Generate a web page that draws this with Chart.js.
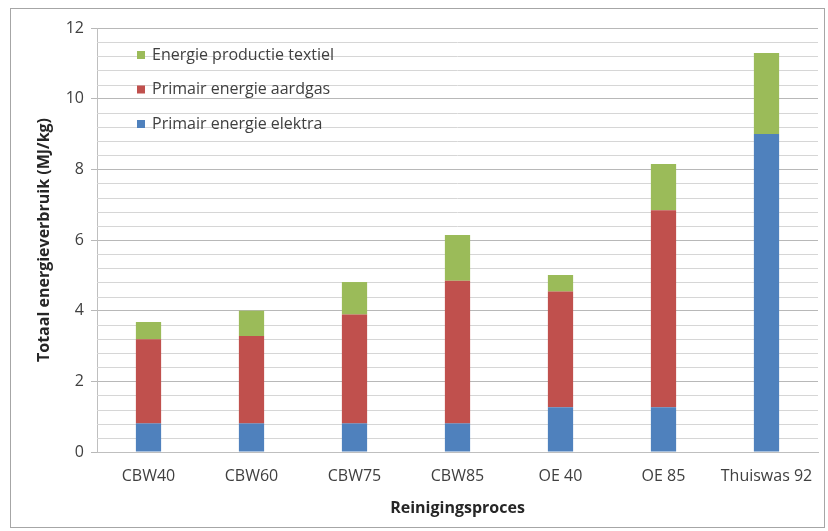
<!DOCTYPE html>
<html>
<head>
<meta charset="utf-8">
<script src="https://cdn.jsdelivr.net/npm/chart.js@4.4.1/dist/chart.umd.min.js"></script>
<style>
  html, body { margin: 0; padding: 0; background: #fff; }
  #wrap { position: absolute; left: 0; top: 0; width: 828px; height: 531px; }
  #frame { position: absolute; left: 10px; top: 8px; width: 815px; height: 520px; border: 1px solid #a6a6a6; box-sizing: border-box; pointer-events: none; }
</style>
</head>
<body>
<div id="wrap">
  <canvas id="chart" width="828" height="531"></canvas>
  <div id="frame"></div>
</div>
<script>
var categories = ['CBW40', 'CBW60', 'CBW75', 'CBW85', 'OE 40', 'OE 85', 'Thuiswas 92'];
var elektra = [0.81, 0.81, 0.81, 0.81, 1.27, 1.27, 9.0];
var aardgas = [2.38, 2.47, 3.08, 4.04, 3.27, 5.57, 0];
var textiel = [0.49, 0.72, 0.92, 1.29, 0.47, 1.31, 2.29];

var font = "'Open Sans', 'Liberation Sans', sans-serif";
var textColor = '#404040';
var minorStep = 0.4;

// minor horizontal gridlines (every 0.4) between the major ones
var minorGrid = {
    id: 'minorGrid',
    beforeDatasetsDraw: function (chart) {
        var ctx = chart.ctx;
        var area = chart.chartArea;
        var y = chart.scales.y;
        ctx.save();
        ctx.strokeStyle = '#d6d6d6';
        ctx.lineWidth = 1;
        for (var i = 1; i * minorStep < y.max; i++) {
            if (i % 5 === 0) continue;
            var py = Math.round(y.getPixelForValue(i * minorStep)) + 0.5;
            ctx.beginPath();
            ctx.moveTo(area.left, py);
            ctx.lineTo(area.right, py);
            ctx.stroke();
        }
        ctx.restore();
    }
};

// legend drawn inside the plot area, top-left, reversed order like Excel
var innerLegend = {
    id: 'innerLegend',
    afterDraw: function (chart) {
        var ctx = chart.ctx;
        var area = chart.chartArea;
        var sets = chart.data.datasets.slice().reverse();
        ctx.save();
        ctx.font = '16px ' + font;
        ctx.textBaseline = 'middle';
        sets.forEach(function (ds, i) {
            var y = area.top + 27 + i * 34.5;
            var x = area.left + 40;
            ctx.fillStyle = ds.backgroundColor;
            ctx.fillRect(x, y - 4, 8, 8);
            ctx.fillStyle = textColor;
            ctx.fillText(ds.label, x + 15, y);
        });
        ctx.restore();
    }
};

new Chart('chart', {
    type: 'bar',
    data: {
        labels: categories,
        datasets: [
            { label: 'Primair energie elektra', data: elektra, backgroundColor: '#4f81bd' },
            { label: 'Primair energie aardgas', data: aardgas, backgroundColor: '#c0504d' },
            { label: 'Energie productie textiel', data: textiel, backgroundColor: '#9bbb59' }
        ]
    },
    options: {
        responsive: false,
        animation: false,
        layout: { padding: { left: 0, top: 28, right: 10, bottom: 0 } },
        datasets: {
            bar: { categoryPercentage: 1, barPercentage: 0.245 }
        },
        plugins: {
            legend: { display: false },
            tooltip: { enabled: false }
        },
        scales: {
            x: {
                stacked: true,
                grid: { drawOnChartArea: false, drawTicks: false },
                border: { color: '#bfbfbf' },
                ticks: { color: textColor, font: { family: font, size: 16 }, padding: 15, maxRotation: 0 },
                title: {
                    display: true,
                    text: 'Reinigingsproces',
                    color: '#262626',
                    font: { family: font, size: 16, weight: 'bold' },
                    padding: { top: 0, bottom: 13 }
                },
                afterFit: function (scale) { scale.height = 79; }
            },
            y: {
                stacked: true,
                min: 0,
                max: 12,
                ticks: {
                    stepSize: 2,
                    color: textColor,
                    font: { family: font, size: 16 },
                    padding: 7
                },
                grid: {
                    color: '#b8b8b8',
                    tickColor: '#b8b8b8',
                    tickLength: 6,
                    lineWidth: 1
                },
                border: { color: '#bfbfbf' },
                title: {
                    display: true,
                    text: 'Totaal energieverbruik (MJ/kg)',
                    color: '#262626',
                    font: { family: font, size: 16, weight: 'bold' },
                    padding: { top: 35, bottom: 0 }
                },
                afterFit: function (scale) { scale.width = 97; }
            }
        }
    },
    plugins: [minorGrid, innerLegend]
});
</script>
</body>
</html>
